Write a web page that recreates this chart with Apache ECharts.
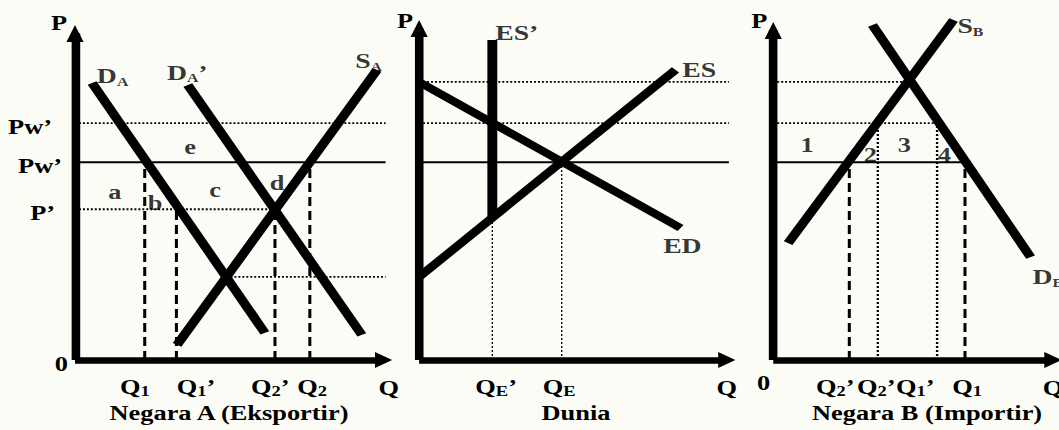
<!DOCTYPE html>
<html>
<head>
<meta charset="utf-8">
<script src="https://cdn.jsdelivr.net/npm/echarts@6/dist/echarts.min.js"></script>
<style>
  html, body { margin: 0; padding: 0; background: #fcfcf6; overflow: hidden; }
  #wrap { width: 1059px; height: 430px; overflow: hidden; }
  #chart { width: 802px; height: 430px; transform-origin: 0 0; }
</style>
</head>
<body>
<div id="wrap"><div id="chart"></div></div>
<script>
// ---------- prices (shared vertical scale of the three diagrams) ----------
const priceTickValues = [0, 4.5, 5.9, 7.07];
const priceTickLabels = [['0', '', ''], ['P’', '', ''], ['Pw’', '', ''], ['Pw’', '', '']];
const worldPrice = 5.9;          // Pw
const worldPriceTariff = 7.07;   // Pw’
const exporterPrice = 4.5;       // P’
const autarkyPrice = [2.48, 8.3]; // [Negara A, Negara B]

// ---------- Negara A (Eksportir) ----------
const demandA = [[0.54, 8.27], [5.99, 0.81]];
const demandA2 = [[3.56, 8.21], [9.05, 0.75]];
const supplyA = [[3.22, 0.45], [9.53, 8.66]];
const equilibriumA = [4.78, 2.48];
const qLinesA = [2.2, 3.2, 6.31, 7.41];
const qLabelAtA = [1.89, 3.82, 6.16, 7.48];
const qLabelsA = [['Q', '1', ''], ['Q', '1', '’'], ['Q', '2', '’'], ['Q', '2', '']];
const curveNamesA = [['D', 'A', ''], ['D', 'A', '’'], ['S', 'A', '']];
const curveNameAtA = [[0.69, 8.48], [2.9, 8.58], [8.84, 8.93]];
const areaNamesA = ['a', 'b', 'c', 'd', 'e'];
const areaNameAtA = [[1.26, 5.01], [2.53, 4.69], [4.42, 5.07], [6.38, 5.28], [3.63, 6.36]];

// ---------- Dunia ----------
const excessSupply = [[0, 2.48], [8.09, 8.66]];
const excessSupply2 = [[2.31, 4.25], [2.31, 9.55]];
const excessDemand = [[0, 8.3], [8.25, 3.94]];
const qLinesW = [2.31, 4.5];
const qLabelAtW = [2.43, 4.42];
const qLabelsW = [['Q', 'E', '’'], ['Q', 'E', '']];
const curveNamesW = [['ES’', '', ''], ['ES', '', ''], ['ED', '', '']];
const curveNameAtW = [[2.4, 9.78], [8.3, 8.67], [7.7, 3.4]];

// ---------- Negara B (Importir) ----------
const supplyB = [[0.47, 3.49], [5.69, 10.15]];
const demandB = [[3.13, 10.0], [8.12, 3.07]];
const equilibriumB = [4.27, 8.3];
const qLinesB = [2.4, 3.3, 5.17, 6.05];
const qLabelAtB = [1.96, 3.25, 4.48, 6.12];
const qLabelsB = [['Q', '2', '’'], ['Q', '2', '’'], ['Q', '1', '’'], ['Q', '1', '']];
const curveNamesB = [['S', 'B', ''], ['D', 'B', '']];
const curveNameAtB = [[5.81, 9.97], [8.18, 2.48]];
const areaNamesB = ['1', '2', '3', '4'];
const areaNameAtB = [[1.07, 6.42], [3.06, 6.12], [4.14, 6.42], [5.4, 6.12]];

const panelTitles = ['Negara A (Eksportir)', 'Dunia', 'Negara B (Importir)'];

// ---------- layout ----------
const STRETCH = 1059 / 802;   // the drawing is widened horizontally
const UNIT_X = 24;            // px per quantity unit
const UNIT_Y = 33.5;          // px per price unit
const ORIGIN_Y = 360;
const panels = [
  { left: 56.8, end: 290.5, top: 33.5, nameGapQ: 4, nameGapP: 10, padP: 6 },
  { left: 317.4, end: 550.4, top: 28.5, nameGapQ: 0, nameGapP: 7, padP: 4.5 },
  { left: 585.6, end: 797.4, top: 30.5, nameGapQ: 0, nameGapP: 9, padP: 4.5 }
];
const titleX = [173.4, 436.2, 702.1];
const yLabelGap = [0, 9.8, 4.5, 12.1];

const chartEl = document.getElementById('chart');
chartEl.style.transform = 'scaleX(' + STRETCH + ')';

const FONT = "'Liberation Serif', 'Times New Roman', serif";
const base = { fontFamily: FONT, fontWeight: 'bold', color: '#000' };
const rich = {
  m: Object.assign({}, base, { fontSize: 20 }),
  s: Object.assign({}, base, { fontSize: 14, padding: [8, 0, 0, 0] }),
  M: Object.assign({}, base, { fontSize: 21 }),
  S: Object.assign({}, base, { fontSize: 12, padding: [11, 0, 0, 0] })
};
function spacer(w) {
  const key = 'w' + Math.round(Math.abs(w) * 10);
  rich[key] = { width: Math.abs(w), fontSize: 1, lineHeight: 1 };
  return '{' + key + '| }';
}
function tag(parts, big) {
  const M = big ? 'M' : 'm', S = big ? 'S' : 's';
  let t = '{' + M + '|' + parts[0] + '}';
  if (parts[1]) t += '{' + S + '|' + parts[1] + '}';
  if (parts[2]) t += '{' + M + '|' + parts[2] + '}';
  return t;
}

const xLabelAt = [qLabelAtA, qLabelAtW, qLabelAtB];
const xLabels = [qLabelsA, qLabelsW, qLabelsB].map(list => list.map(p => tag(p, false)));
const yLabels = priceTickLabels.map((p, j) => tag(p, false) + (yLabelGap[j] ? spacer(yLabelGap[j]) : ''));

// ---------- series helpers ----------
const thick = { color: '#000', width: 7.5, cap: 'butt' };
const solidThin = { color: '#000', width: 2 };
const dottedH = { color: '#000', width: 1.8, type: [1.5, 1.5] };
const dottedV = { color: '#000', width: 1.8, type: [2, 2] };
const dottedThin = { color: '#000', width: 1, type: [2, 2] };
const dashed = { color: '#000', width: 2.3, type: [9, 5] };

function seg(i, pts, style, z) {
  return {
    type: 'line', xAxisIndex: i, yAxisIndex: i, data: pts, symbol: 'none',
    clip: false, silent: true, animation: false, z: z || 1,
    lineStyle: style
  };
}
function tags(i, names, at, big, align) {
  return {
    type: 'scatter', xAxisIndex: i, yAxisIndex: i, symbolSize: 1, silent: true,
    animation: false, clip: false, z: 6,
    itemStyle: { color: 'rgba(0,0,0,0)' },
    data: names.map((n, j) => ({
      value: at[j],
      label: {
        show: true, position: 'inside', align: align, verticalAlign: 'middle',
        formatter: typeof n === 'string' ? tag([n, '', ''], false) : tag(n, big),
        rich: rich
      }
    }))
  };
}
// quantity at which the next diagram's vertical axis sits
function reachNext(i) { return (panels[i + 1].left - panels[i].left) / UNIT_X; }

const series = [
  // Negara A
  seg(0, [[0, worldPrice], [reachNext(0), worldPrice]], solidThin),
  seg(0, [[0, worldPriceTariff], [reachNext(0), worldPriceTariff]], dottedH),
  seg(0, [[0, exporterPrice], [qLinesA[2], exporterPrice]], dottedH),
  seg(0, [equilibriumA, [reachNext(0), equilibriumA[1]]], dottedH),
  seg(0, [[qLinesA[0], 0], [qLinesA[0], worldPrice]], dashed),
  seg(0, [[qLinesA[1], 0], [qLinesA[1], exporterPrice]], dashed),
  seg(0, [[qLinesA[2], 0], [qLinesA[2], exporterPrice]], dashed),
  seg(0, [[qLinesA[3], 0], [qLinesA[3], worldPrice]], dashed),
  seg(0, demandA, thick, 3),
  seg(0, demandA2, thick, 3),
  seg(0, supplyA, thick, 3),
  tags(0, curveNamesA, curveNameAtA, true, 'left'),
  tags(0, areaNamesA, areaNameAtA, false, 'center'),
  // Dunia
  seg(1, [[0, autarkyPrice[1]], [reachNext(1), autarkyPrice[1]]], dottedH),
  seg(1, [[0, worldPriceTariff], [reachNext(1), worldPriceTariff]], dottedH),
  seg(1, [[0, worldPrice], [reachNext(1), worldPrice]], solidThin),
  seg(1, [[qLinesW[0], 0], [qLinesW[0], excessSupply2[0][1]]], dottedThin),
  seg(1, [[qLinesW[1], 0], [qLinesW[1], worldPrice]], dottedThin),
  seg(1, excessSupply, thick, 3),
  seg(1, excessSupply2, thick, 3),
  seg(1, excessDemand, thick, 3),
  tags(1, curveNamesW, curveNameAtW, true, 'left'),
  // Negara B
  seg(2, [[0, autarkyPrice[1]], equilibriumB], dottedH),
  seg(2, [[0, worldPriceTariff], [qLinesB[2], worldPriceTariff]], dottedH),
  seg(2, [[0, worldPrice], [qLinesB[3], worldPrice]], solidThin),
  seg(2, [[qLinesB[0], 0], [qLinesB[0], worldPrice]], dashed),
  seg(2, [[qLinesB[1], 0], [qLinesB[1], worldPriceTariff]], dottedV),
  seg(2, [[qLinesB[2], 0], [qLinesB[2], worldPriceTariff]], dottedV),
  seg(2, [[qLinesB[3], 0], [qLinesB[3], worldPrice]], dashed),
  seg(2, supplyB, thick, 3),
  seg(2, demandB, thick, 3),
  tags(2, curveNamesB, curveNameAtB, true, 'left'),
  tags(2, areaNamesB, areaNameAtB, false, 'center')
];

const axisLineX = { show: true, onZero: false, symbol: ['none', 'triangle'], symbolSize: [16, 13],
  lineStyle: { color: '#000', width: 6.5, cap: 'butt' } };
const axisLineY = { show: true, onZero: false, symbol: ['none', 'triangle'], symbolSize: [13, 17],
  lineStyle: { color: '#000', width: 6.5, cap: 'butt' } };

function yLabelFor(i) {
  if (i === 0) {
    return {
      show: true, customValues: priceTickValues, margin: 5.3, padding: [8, 0, 0, 0], rich: rich,
      hideOverlap: false, formatter: v => yLabels[priceTickValues.indexOf(v)]
    };
  }
  if (i === 2) {   // origin "0" of Negara B sits under the corner
    return { show: true, customValues: [0], margin: 2.3, padding: [46, 0, 0, 0], rich: rich,
      hideOverlap: false, formatter: () => tag(['0', '', ''], false) };
  }
  return { show: false };
}

const option = {
  backgroundColor: '#fcfcf6',
  animation: false,
  grid: panels.map(p => ({
    left: p.left, top: p.top, width: p.end - p.left, height: ORIGIN_Y - p.top,
    containLabel: false, outerBoundsMode: 'none'
  })),
  xAxis: panels.map((p, i) => ({
    gridIndex: i, type: 'value', min: 0, max: (p.end - p.left) / UNIT_X,
    axisLine: axisLineX, axisTick: { show: false }, splitLine: { show: false },
    axisLabel: {
      show: true, customValues: xLabelAt[i], margin: 16, rich: rich, hideOverlap: false,
      formatter: v => xLabels[i][xLabelAt[i].indexOf(v)]
    },
    name: 'Q', nameLocation: 'end', nameGap: p.nameGapQ, nameMoveOverlap: false,
    nameTextStyle: Object.assign({}, base, { fontSize: 20, align: 'center', verticalAlign: 'top', padding: [18, 0, 0, 0] })
  })),
  yAxis: panels.map((p, i) => ({
    gridIndex: i, type: 'value', min: 0, max: (ORIGIN_Y - p.top) / UNIT_Y,
    axisLine: axisLineY, axisTick: { show: false }, splitLine: { show: false },
    axisLabel: yLabelFor(i),
    name: 'P', nameLocation: 'end', nameGap: p.nameGapP, nameMoveOverlap: false,
    nameTextStyle: Object.assign({}, base, { fontSize: 20, align: 'right', verticalAlign: 'middle', padding: [0, p.padP, 0, 0] })
  })),
  graphic: panelTitles.map((t, i) => ({
    type: 'text', x: titleX[i], y: 413, silent: true,
    style: { text: t, textAlign: 'center', textVerticalAlign: 'middle', fill: '#000',
      font: 'bold 20px ' + FONT }
  })),
  series: series
};

const chart = echarts.init(chartEl, null, { renderer: 'svg' });
chart.setOption(option);
</script>
</body>
</html>
